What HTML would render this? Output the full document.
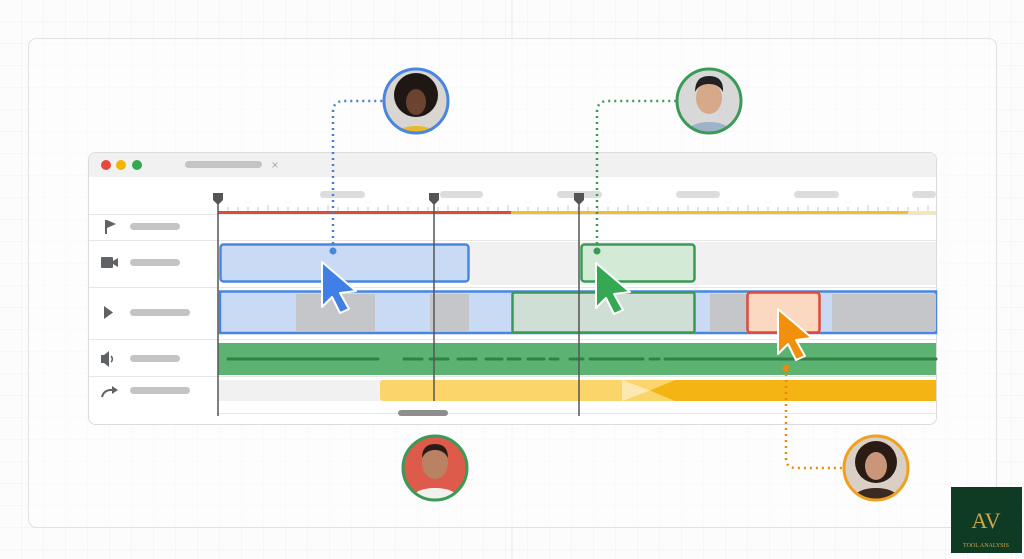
<!DOCTYPE html>
<html><head><meta charset="utf-8"><style>
html,body{margin:0;padding:0;width:1024px;height:559px;overflow:hidden;background:#fff;font-family:"Liberation Sans",sans-serif}
</style></head><body>
<svg width="1024" height="559" viewBox="0 0 1024 559" xmlns="http://www.w3.org/2000/svg">
<defs>
<pattern id="g" width="22" height="22" patternUnits="userSpaceOnUse"><path d="M22 0V22M0 22H22" stroke="#f0f0f0" stroke-width="1" fill="none"/></pattern>
<clipPath id="c1"><circle cx="416" cy="101" r="31"/></clipPath>
<clipPath id="c2"><circle cx="709" cy="101" r="31"/></clipPath>
<clipPath id="c3"><circle cx="435" cy="468" r="31"/></clipPath>
<clipPath id="c4"><circle cx="876" cy="468" r="31"/></clipPath>
</defs>
<rect width="1024" height="559" fill="#fcfcfc"/>
<rect width="1024" height="559" fill="url(#g)"/>
<line x1="512" y1="0" x2="512" y2="559" stroke="#e8e8e8"/>
<rect x="28.5" y="38.5" width="968" height="489" rx="8" fill="#fdfdfd" fill-opacity="0.6" stroke="#e2e2e2"/>

<!-- window -->
<rect x="88.5" y="152.5" width="848" height="272" rx="7" fill="#fff" stroke="#dcdcdc"/>
<path d="M89 177V159a6 6 0 0 1 6-6h835a6 6 0 0 1 6 6v18z" fill="#f1f1f1"/>
<circle cx="106" cy="165" r="5" fill="#e5483c"/><circle cx="121" cy="165" r="5" fill="#f4b400"/><circle cx="137" cy="165" r="5" fill="#34a853"/>
<rect x="185" y="161" width="77" height="7" rx="3.5" fill="#c4c4c4"/>
<text x="275" y="169" font-size="12" fill="#aaa" text-anchor="middle">×</text>

<!-- ruler labels -->
<g fill="#dcdcdc">
<rect x="320" y="191" width="45" height="7" rx="3.5"/><rect x="440" y="191" width="43" height="7" rx="3.5"/>
<rect x="557" y="191" width="45" height="7" rx="3.5"/><rect x="676" y="191" width="44" height="7" rx="3.5"/>
<rect x="794" y="191" width="45" height="7" rx="3.5"/><rect x="912" y="191" width="24" height="7" rx="3.5"/>
</g>
<g stroke="#c8c8c8" stroke-width="1">
<path d="M228 207v5M238 207v5M248 207v5M258 207v5M268 205v7M278 207v5M288 207v5M298 207v5M308 207v5M318 207v5M328 205v7M338 207v5M348 207v5M358 207v5M368 207v5M378 207v5M388 205v7M398 207v5M408 207v5M418 207v5M428 207v5M438 207v5M448 205v7M458 207v5M468 207v5M478 207v5M488 207v5M498 207v5M508 205v7M518 207v5M528 207v5M538 207v5M548 207v5M558 207v5M568 205v7M578 207v5M588 207v5M598 207v5M608 207v5M618 207v5M628 205v7M638 207v5M648 207v5M658 207v5M668 207v5M678 207v5M688 205v7M698 207v5M708 207v5M718 207v5M728 207v5M738 207v5M748 205v7M758 207v5M768 207v5M778 207v5M788 207v5M798 207v5M808 205v7M818 207v5M828 207v5M838 207v5M848 207v5M858 207v5M868 205v7M878 207v5M888 207v5M898 207v5M908 207v5M918 207v5M928 205v7"/>
</g>
<line x1="218" y1="212.5" x2="511" y2="212.5" stroke="#de4a3a" stroke-width="3"/>
<line x1="511" y1="212.5" x2="908" y2="212.5" stroke="#f2bd2e" stroke-width="3"/>
<line x1="908" y1="212.5" x2="936" y2="212.5" stroke="#fae7a8" stroke-width="3"/>

<!-- row lines -->
<g stroke="#e6e6e6"><line x1="89" y1="214.5" x2="936" y2="214.5"/><line x1="89" y1="240.5" x2="936" y2="240.5"/><line x1="89" y1="287.5" x2="936" y2="287.5"/><line x1="89" y1="339.5" x2="936" y2="339.5"/><line x1="89" y1="376.5" x2="936" y2="376.5"/><line x1="218" y1="413.5" x2="936" y2="413.5"/></g>

<!-- label column -->
<g fill="#c4c4c4">
<rect x="130" y="223" width="50" height="7" rx="3.5"/><rect x="130" y="259" width="50" height="7" rx="3.5"/>
<rect x="130" y="309" width="60" height="7" rx="3.5"/><rect x="130" y="355" width="50" height="7" rx="3.5"/>
<rect x="130" y="387" width="60" height="7" rx="3.5"/>
</g>
<g fill="#5f6368">
<path d="M105 220h2v14h-2zM107 220l9 4-9 4z"/>
<rect x="101" y="257" width="12" height="11" rx="1"/><path d="M113 261l5-3v9l-5-3z"/>
<path d="M104 306l9 6.5-9 6.5z"/>
<path d="M101 355h3l5-4v16l-5-4h-3z"/><path d="M111 356a4 4 0 0 1 0 6" stroke="#5f6368" stroke-width="1.5" fill="none"/>
<path d="M102 397q2-8 12-7" stroke="#5f6368" stroke-width="2" fill="none"/><path d="M112 386l6 4-6 4z"/>
</g>

<!-- camera row -->
<rect x="470" y="242" width="466" height="43" fill="#f1f1f1"/>
<rect x="220.5" y="244.5" width="248" height="37" rx="3" fill="#c9daf5" stroke="#4a86e0" stroke-width="2.5"/>
<rect x="581.5" y="244.5" width="113" height="37" rx="3" fill="#d3ead6" stroke="#3a9a57" stroke-width="2.5"/>

<!-- play row -->
<rect x="220" y="291.5" width="716" height="41.5" fill="#c9daf5" stroke="#4a86e0" stroke-width="2.5"/>
<rect x="296" y="294" width="79" height="37" fill="#c4c6c9"/>
<rect x="430" y="294" width="39" height="37" fill="#c4c6c9"/>
<rect x="710" y="294" width="37" height="37" fill="#c4c6c9"/>
<rect x="832" y="294" width="104" height="37" fill="#c4c6c9"/>
<rect x="512.5" y="292.5" width="182" height="40" rx="2" fill="#cfdfd5" stroke="#3a9a57" stroke-width="2.5"/>
<rect x="747.5" y="292.5" width="72" height="40" rx="3" fill="#fbd8c0" stroke="#de4a3a" stroke-width="2.5"/>

<!-- audio -->
<rect x="218" y="343" width="718" height="32" fill="#5cb271"/>
<path d="M228 359H378M404 359H422M430 359H448M458 359H476M486 359H502M508 359H520M528 359H544M550 359H558M570 359H583M590 359H643M650 359H659M665 359H936" stroke="#2f8247" stroke-width="3" stroke-linecap="round"/>

<!-- transition row -->
<rect x="218" y="380" width="718" height="21" fill="#f1f1f1"/>
<rect x="380" y="380" width="300" height="21" rx="3" fill="#fbd46a"/>
<path d="M622 380L680 380 680 401 622 401z" fill="#fbd46a"/>
<path d="M622 380L650 390.5 622 401z" fill="#fde8b2"/>
<path d="M650 390.5L675 380H936V401H675z" fill="#f4b514"/>
<rect x="398" y="410" width="50" height="6" rx="3" fill="#8e8e8e"/>

<!-- playheads -->
<g stroke="#555" stroke-width="1.5"><line x1="218" y1="200" x2="218" y2="416"/><line x1="434" y1="200" x2="434" y2="401"/><line x1="579" y1="200" x2="579" y2="416"/></g>
<g fill="#555"><path d="M213 193h10v7l-5 5-5-5z"/><path d="M429 193h10v7l-5 5-5-5z"/><path d="M574 193h10v7l-5 5-5-5z"/></g>

<!-- connectors -->
<path d="M333 250V112q0-11 11-11H383" fill="none" stroke="#4a7fd0" stroke-width="2.5" stroke-dasharray="2 4"/>
<circle cx="333" cy="251" r="3.5" fill="#4a86e0"/>
<path d="M597 250V112q0-11 11-11H676" fill="none" stroke="#3a9a57" stroke-width="2.5" stroke-dasharray="2 4"/>
<circle cx="597" cy="251" r="3.5" fill="#3a9a57"/>
<path d="M786 368V458q0 10 10 10H843" fill="none" stroke="#e68a10" stroke-width="2.5" stroke-dasharray="2 4"/>
<circle cx="786" cy="368" r="3.5" fill="#e68a10"/>

<!-- cursors -->
<path d="M322 262L356 291 340 293 349 309 340 313 332 297 322 307z" fill="#3f7fe6" stroke="#fff" stroke-width="2" stroke-linejoin="round"/>
<path d="M596 263L630 292 614 294 623 310 614 314 606 298 596 308z" fill="#34a853" stroke="#fff" stroke-width="2" stroke-linejoin="round"/>
<path d="M778 309L812 338 796 340 805 356 796 360 788 344 778 354z" fill="#f0900c" stroke="#fff" stroke-width="2" stroke-linejoin="round"/>

<!-- avatars -->
<g clip-path="url(#c1)"><rect x="380" y="65" width="72" height="72" fill="#d9d6d2"/><circle cx="416" cy="95" r="22" fill="#1e1714"/><ellipse cx="416" cy="102" rx="10" ry="13" fill="#6b4330"/><path d="M390 140q6-14 26-14 20 0 26 14z" fill="#e8b92e"/></g>
<circle cx="416" cy="101" r="32" fill="none" stroke="#4a86e0" stroke-width="3"/>
<g clip-path="url(#c2)"><rect x="673" y="65" width="72" height="72" fill="#d8d8d8"/><ellipse cx="709" cy="98" rx="13" ry="16" fill="#d7a98b"/><path d="M695 92q0-16 14-16 15 0 14 16q-4-8-14-8-10 0-14 8z" fill="#222"/><path d="M682 140q4-18 27-18 23 0 27 18z" fill="#9fb2c8"/></g>
<circle cx="709" cy="101" r="32" fill="none" stroke="#3a9a57" stroke-width="3"/>
<g clip-path="url(#c3)"><rect x="399" y="432" width="72" height="72" fill="#de5a4a"/><ellipse cx="435" cy="463" rx="13" ry="16" fill="#b98263"/><path d="M422 458q0-14 13-14 13 0 13 14q-4-8-13-8-9 0-13 8z" fill="#2a1c16"/><path d="M408 504q4-16 27-16 23 0 27 16z" fill="#f2f0ec"/></g>
<circle cx="435" cy="468" r="32" fill="none" stroke="#3a9a57" stroke-width="3"/>
<g clip-path="url(#c4)"><rect x="840" y="432" width="72" height="72" fill="#d9cfc5"/><circle cx="876" cy="462" r="21" fill="#2a1b15"/><ellipse cx="876" cy="466" rx="11" ry="14" fill="#c99679"/><path d="M850 504q4-16 26-16 22 0 26 16z" fill="#3a2a22"/></g>
<circle cx="876" cy="468" r="32" fill="none" stroke="#f0a020" stroke-width="3"/>

<!-- logo -->
<rect x="951" y="487" width="71" height="66" fill="#0f3a24"/>
<text x="986" y="528" font-size="22" fill="#c9a84a" text-anchor="middle" font-family="Liberation Serif,serif">AV</text>
<text x="986" y="547" font-size="6" fill="#c9a84a" text-anchor="middle" font-family="Liberation Serif,serif">TOOL ANALYSIS</text>
</svg>
</body></html>
